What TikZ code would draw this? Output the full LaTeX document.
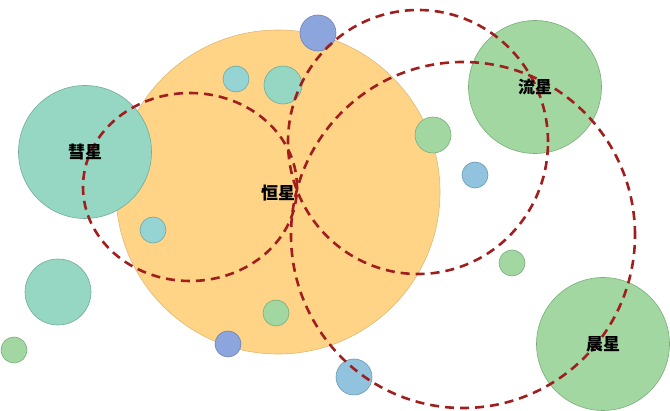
\documentclass[tikz,border=0pt]{standalone}
\usepackage{fontspec}
\newfontfamily\cjk{Noto Sans CJK SC}
\definecolor{orangefill}{RGB}{255,212,135}
\definecolor{orangeline}{RGB}{222,184,118}
\definecolor{tealfill}{RGB}{150,215,195}
\definecolor{tealline}{RGB}{112,172,152}
\definecolor{greenfill}{RGB}{162,215,162}
\definecolor{greenline}{RGB}{122,172,122}
\definecolor{bluefill}{RGB}{140,165,220}
\definecolor{blueline}{RGB}{108,128,182}
\definecolor{cyanfill}{RGB}{150,212,212}
\definecolor{cyanline}{RGB}{108,168,168}
\definecolor{lbluefill}{RGB}{145,195,222}
\definecolor{lblueline}{RGB}{108,152,180}
\definecolor{orbitred}{RGB}{160,30,30}
\tikzset{
  star/.style={circle, inner sep=0pt, line width=0.6pt},
  sunstar/.style={star, fill=orangefill, draw=orangeline},
  tealstar/.style={star, fill=tealfill, draw=tealline},
  greenstar/.style={star, fill=greenfill, draw=greenline},
  bluestar/.style={star, fill=bluefill, draw=blueline},
  cyanstar/.style={star, fill=cyanfill, draw=cyanline},
  lbluestar/.style={star, fill=lbluefill, draw=lblueline},
  orbit/.style={draw=orbitred, line width=2.6pt, dash pattern=on 9pt off 6pt},
  starlabel/.style={font=\cjk\bfseries\fontsize{17}{20}\selectfont, text=black, inner sep=0pt}
}
\begin{document}
\begin{tikzpicture}[x=1pt,y=-1pt]
\useasboundingbox (0,0) rectangle (670,411);
% big star
\node[sunstar, minimum size=324pt] (sun) at (278,192) {};
% large named stars
\node[tealstar, minimum size=133pt] (comet) at (85,152) {};
\node[greenstar, minimum size=133pt] (meteor) at (535,87) {};
\node[greenstar, minimum size=133pt] (morning) at (603,344) {};
% small stars
\node[bluestar, minimum size=36pt] (s1) at (318,33) {};
\node[cyanstar, minimum size=26pt] (s2) at (236,79) {};
\node[tealstar, minimum size=38pt] (s3) at (283,85) {};
\node[greenstar, minimum size=36pt] (s4) at (433,135) {};
\node[lbluestar, minimum size=26pt] (s5) at (475,175) {};
\node[cyanstar, minimum size=26pt] (s6) at (153,230) {};
\node[tealstar, minimum size=66pt] (s7) at (58,292) {};
\node[greenstar, minimum size=26pt] (s8) at (14,350) {};
\node[greenstar, minimum size=26pt] (s9) at (276,313) {};
\node[bluestar, minimum size=26pt] (s10) at (228,344) {};
\node[greenstar, minimum size=26pt] (s11) at (512,263) {};
\node[lbluestar, minimum size=36pt] (s12) at (354,377) {};
% orbits
\draw[orbit] (190,187) ellipse [x radius=107pt, y radius=94pt];
\draw[orbit] (418,142) ellipse [x radius=130pt, y radius=132pt];
\draw[orbit] (463,235) ellipse [x radius=172pt, y radius=173pt];
% labels
\node[starlabel] (lsun) at (278,193) {恒星};
\node[starlabel] (lcomet) at (comet.center) {彗星};
\node[starlabel] (lmeteor) at (meteor.center) {流星};
\node[starlabel] (lmorning) at (morning.center) {晨星};
\end{tikzpicture}
\end{document}
